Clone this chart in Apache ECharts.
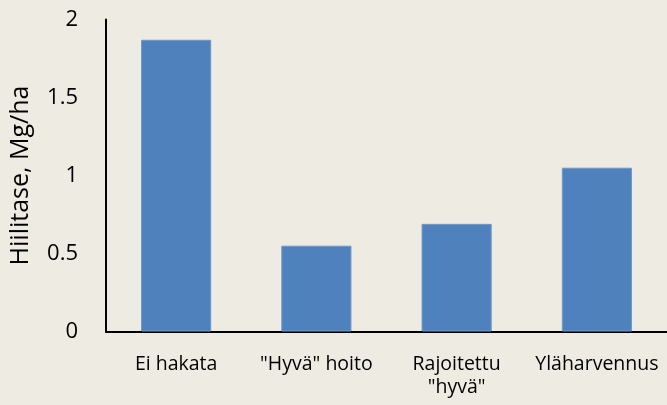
<!DOCTYPE html>
<html>
<head>
<meta charset="utf-8">
<script src="https://cdn.jsdelivr.net/npm/echarts@6/dist/echarts.min.js"></script>
<style>
  html, body { margin: 0; padding: 0; background: #eeebe3; }
  #chart { width: 667px; height: 405px; }
</style>
</head>
<body>
<div id="chart"></div>
<script>
const categories = ['Ei hakata', '"Hyvä" hoito', 'Rajoitettu\n"hyvä"', 'Yläharvennus']
const values = [1.87, 0.55, 0.69, 1.05]
const yTicks = [0, 0.5, 1, 1.5, 2]

const chart = echarts.init(document.getElementById('chart'))

chart.setOption({
  backgroundColor: '#eeebe3',
  animation: false,
  grid: { left: 106, right: 0, top: 19.5, bottom: 73.5 },
  xAxis: {
    type: 'category',
    data: categories,
    axisLine: { lineStyle: { color: '#000', width: 2 } },
    axisTick: { show: false },
    axisLabel: {
      color: '#000',
      fontFamily: 'Open Sans',
      fontSize: 19.5,
      margin: 21,
      lineHeight: 23,
      interval: 0,
    },
  },
  yAxis: {
    type: 'value',
    min: yTicks[0],
    max: yTicks[yTicks.length - 1],
    interval: 0.5,
    name: 'Hiilitase, Mg/ha',
    nameLocation: 'middle',
    nameGap: 73,
    nameTextStyle: { color: '#000', fontFamily: 'Open Sans', fontSize: 25 },
    axisLine: { show: true, lineStyle: { color: '#000', width: 2 } },
    axisTick: { show: false },
    splitLine: { show: false },
    axisLabel: {
      color: '#000',
      fontFamily: 'Open Sans',
      fontSize: 22,
      margin: 28,
    },
  },
  series: [{
    type: 'bar',
    data: values,
    barWidth: '50%',
    itemStyle: { color: '#4f81bd', borderColor: '#6f97c8', borderWidth: 1 },
  }],
})
</script>
</body>
</html>
